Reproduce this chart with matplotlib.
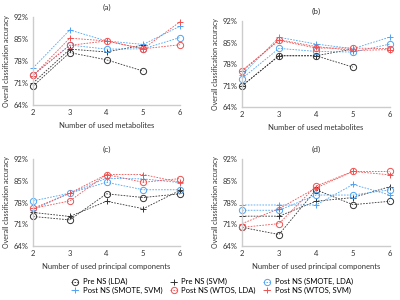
import matplotlib.pyplot as plt
import numpy as np

plt.rcParams["font.family"] = ["Lato", "DejaVu Sans"]

x = [2, 3, 4, 5, 6]
nan = np.nan

labels = [
    "Pre NS (LDA)",
    "Pre NS (SVM)",
    "Post NS (SMOTE, LDA)",
    "Post NS (SMOTE, SVM)",
    "Post NS (WTOS, LDA)",
    "Post NS (WTOS, SVM)",
]

# accuracy (%) per panel, one list per series in the order of labels
acc_a = [
    [70.0, 80.7, 78.4, 74.8, nan],
    [71.0, 81.8, 80.9, 83.1, nan],
    [73.5, 83.1, 81.8, 81.9, 85.5],
    [75.8, 87.9, 84.4, 83.3, 89.1],
    [73.5, 83.0, 84.4, 81.9, 83.2],
    [73.3, 85.3, 84.4, 81.9, 90.5],
]
acc_b = [
    [70.9, 80.7, 80.7, 77.0, nan],
    [70.9, 80.7, 80.7, 82.9, nan],
    [73.3, 83.1, 82.1, 81.9, 84.5],
    [74.5, 86.7, 84.5, 83.0, 86.8],
    [75.9, 85.7, 83.2, 83.2, 83.0],
    [75.6, 85.9, 83.7, 82.4, 82.7],
]
acc_c = [
    [73.5, 72.4, 80.8, 79.6, 80.8],
    [74.8, 73.5, 78.4, 76.0, 81.9],
    [78.5, 81.0, 84.5, 82.1, 82.1],
    [75.7, 81.0, 85.8, 85.6, 84.4],
    [76.1, 78.5, 87.0, 84.5, 85.7],
    [76.1, 81.0, 87.0, 87.0, 84.5],
]
acc_d = [
    [70.0, 67.7, 82.1, 77.3, 78.4],
    [73.6, 73.6, 78.4, 79.6, 83.1],
    [75.5, 75.5, 80.4, 80.4, 82.1],
    [77.2, 77.2, 77.2, 83.8, 80.4],
    [70.0, 71.2, 83.3, 88.0, 88.0],
    [71.2, 76.0, 82.7, 88.0, 86.9],
]

colors = ["#333333", "#333333", "#4da3f5", "#4da3f5", "#f05050", "#f05050"]
markers = ["o", "+", "o", "+", "o", "+"]

panels = [
    ("(a)", acc_a, "Number of used metabolites", [0.0825, 0.65, 0.3675, 0.293]),
    ("(b)", acc_b, "Number of used metabolites", [0.605, 0.643, 0.37, 0.287]),
    ("(c)", acc_c, "Number of used principal components", [0.0825, 0.18, 0.3675, 0.29]),
    ("(d)", acc_d, "Number of used principal components", [0.605, 0.18, 0.37, 0.29]),
]

fig = plt.figure(figsize=(4, 3), dpi=100)
handles = []
for title, acc, xlab, pos in panels:
    ax = fig.add_axes(pos)
    hs = []
    for vals, col, mk, lab in zip(acc, colors, markers, labels):
        (h,) = ax.plot(
            x, vals, linestyle=(0, (2, 1.5)), linewidth=0.6, color=col,
            marker=mk, markersize=4.5 if mk == "o" else 5, markerfacecolor="none",
            markeredgewidth=0.7, label=lab, clip_on=False,
        )
        hs.append(h)
    handles = hs
    ax.set_xlim(2, 6)
    ax.set_ylim(64, 92)
    ax.set_xticks(x)
    ax.set_yticks([64, 71, 78, 85, 92])
    ax.set_yticklabels([f"{v}%" for v in [64, 71, 78, 85, 92]])
    ax.tick_params(labelsize=5.5, length=0, pad=3, colors="#333333")
    for s in ["top", "right"]:
        ax.spines[s].set_visible(False)
    for s in ["left", "bottom"]:
        ax.spines[s].set_color("#cccccc")
        ax.spines[s].set_linewidth(1.0)
    ax.set_title(title, fontsize=6, pad=5, color="#333333")
    ax.set_xlabel(xlab, fontsize=5.5, labelpad=4, color="#333333")
    ax.set_ylabel("Overall classification accuracy", fontsize=5, labelpad=3, color="#333333")

order = [0, 3, 1, 4, 2, 5]
fig.legend(
    [handles[i] for i in order], [labels[i] for i in order],
    ncol=3, loc="center", bbox_to_anchor=(0.53, 0.047), fontsize=5.5,
    frameon=False, handlelength=1.0, columnspacing=1.0, handletextpad=0.5,
    labelspacing=0.15,
)

fig.savefig("out.png", dpi=100)
